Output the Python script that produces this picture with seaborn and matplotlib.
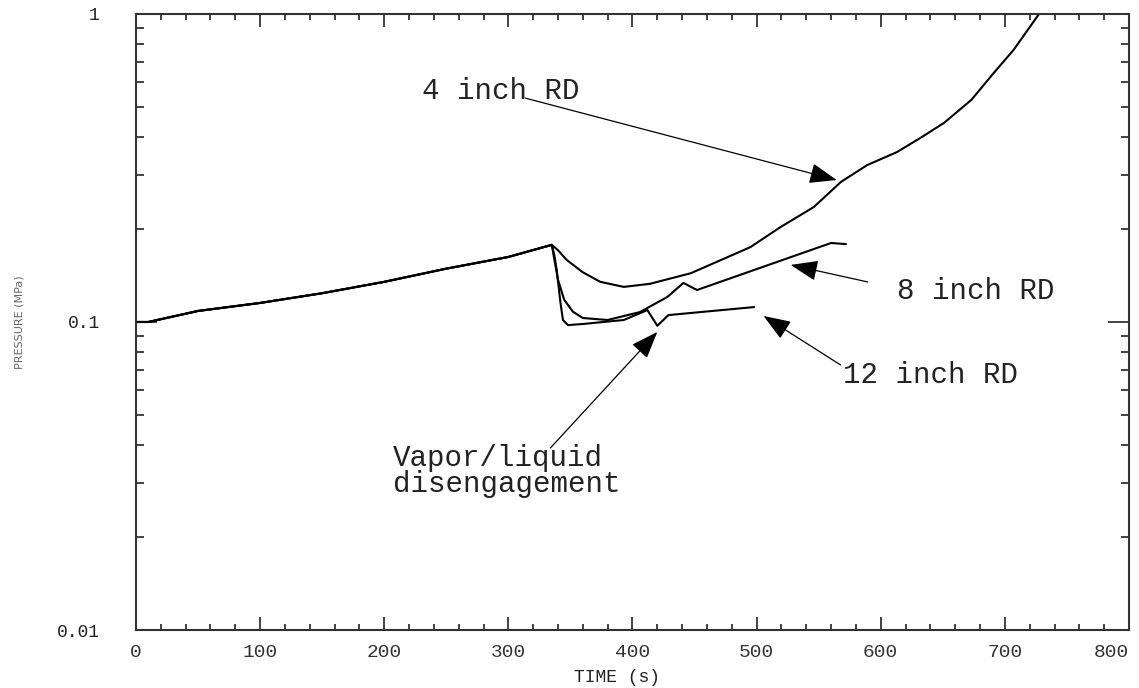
import matplotlib
matplotlib.use("Agg")
import matplotlib.pyplot as plt
import matplotlib.ticker as mticker
import pandas as pd
import seaborn as sns

# shared heat-up part (s, MPa)
common_t = [0, 10, 50, 100, 150, 200, 250, 300, 335]
common_p = [0.1, 0.1, 0.1086, 0.1153, 0.124, 0.135, 0.149, 0.1626, 0.178]

rd4_t = [340, 347, 360, 374, 393, 414, 447, 495, 519, 546, 568, 589, 613,
         632, 651, 673, 691, 707, 727, 730]
rd4_p = [0.171, 0.159, 0.145, 0.135, 0.130, 0.133, 0.144, 0.175, 0.203,
         0.236, 0.285, 0.323, 0.356, 0.396, 0.443, 0.526, 0.643, 0.764,
         0.993, 1.03]

rd8_t = [337, 340, 345, 352, 360, 380, 406, 428, 441, 452, 560, 572]
rd8_p = [0.160, 0.137, 0.118, 0.108, 0.103, 0.1015, 0.1077, 0.1205,
         0.1339, 0.127, 0.1805, 0.179]

rd12_t = [337, 339, 342, 344, 348, 360, 393, 412, 420, 429, 498]
rd12_p = [0.165, 0.147, 0.1153, 0.1015, 0.0977, 0.0985, 0.1015, 0.1093,
          0.0972, 0.1053, 0.1118]

labels = ["4 inch RD", "8 inch RD", "12 inch RD"]
x_ticks = [0, 100, 200, 300, 400, 500, 600, 700, 800]
y_ticks = [0.01, 0.1, 1]
y_tick_labels = ["0.01", "0.1", "1"]


def main():
    rows = []
    for name, tt, pp in zip(labels, [rd4_t, rd8_t, rd12_t],
                            [rd4_p, rd8_p, rd12_p]):
        for t, p in zip(common_t + tt, common_p + pp):
            rows.append({"case": name, "time": t, "pressure": p})
    df = pd.DataFrame(rows)

    sns.set_style("ticks")
    plt.rcParams["font.family"] = ["Liberation Mono", "DejaVu Sans Mono"]

    fig = plt.figure(figsize=(11.39, 6.88), dpi=100)
    ax = fig.add_axes([0.1194, 0.0843, 0.8718, 0.8954])
    sns.lineplot(data=df, x="time", y="pressure", hue="case",
                 palette=["black"] * 3, estimator=None, sort=False,
                 legend=False, linewidth=1.5, ax=ax)

    ax.set_yscale("log")
    ax.set_xlim(0, 800)
    ax.set_ylim(0.01, 1)
    ax.set_xticks(x_ticks)
    ax.xaxis.set_minor_locator(mticker.MultipleLocator(20))
    ax.set_yticks(y_ticks, y_tick_labels)
    ax.yaxis.set_minor_formatter(mticker.NullFormatter())

    ax.tick_params(which="both", direction="in", top=True, right=True,
                   width=1.2, colors="#222", labelsize=14)
    ax.tick_params(axis="x", which="major", length=9.5, pad=10)
    ax.tick_params(axis="x", which="minor", length=4.5)
    ax.tick_params(axis="y", which="major", length=15, pad=26, labelsize=13)
    ax.tick_params(axis="y", which="minor", length=5.5)
    for lab in ax.get_xticklabels():
        lab.set_color("#333")
    # last x label kept inside the figure
    ax.get_xticklabels()[-1].set_horizontalalignment("right")
    for s in ax.spines.values():
        s.set_color("#333")
        s.set_linewidth(1.5)

    ax.set_xlabel("TIME (s)", fontsize=13, color="#222")
    ax.xaxis.set_label_coords(0.484, -0.063)
    ax.set_ylabel("PRESSURE (MPa)", fontsize=8, color="#666",
                  family="DejaVu Sans")
    ax.yaxis.set_label_coords(-0.112, 0.5)

    arrow = dict(arrowstyle="-|>,head_length=0.85,head_width=0.32",
                 color="black", lw=0.9, shrinkA=0, shrinkB=0,
                 mutation_scale=20)
    txt = dict(fontsize=21, color="#222", va="center", ha="left")

    ax.text(230.6, 0.562, "4 inch RD", **txt)
    ax.annotate("", xy=(564.5, 0.289), xytext=(313.7, 0.533),
                arrowprops=arrow)
    ax.text(613, 0.126, "8 inch RD", **txt)
    ax.annotate("", xy=(527.4, 0.1532), xytext=(589.5, 0.1349),
                arrowprops=arrow)
    ax.text(570, 0.0673, "12 inch RD", **txt)
    ax.annotate("", xy=(505.6, 0.1046), xytext=(567.7, 0.0725),
                arrowprops=arrow)
    ax.text(207, 0.0328, "Vapor/liquid\ndisengagement", linespacing=0.9,
            **txt)
    ax.annotate("", xy=(420, 0.0928), xytext=(333.9, 0.039),
                arrowprops=arrow)

    fig.savefig("out.png", dpi=100)
    plt.close(fig)


if __name__ == "__main__":
    main()
